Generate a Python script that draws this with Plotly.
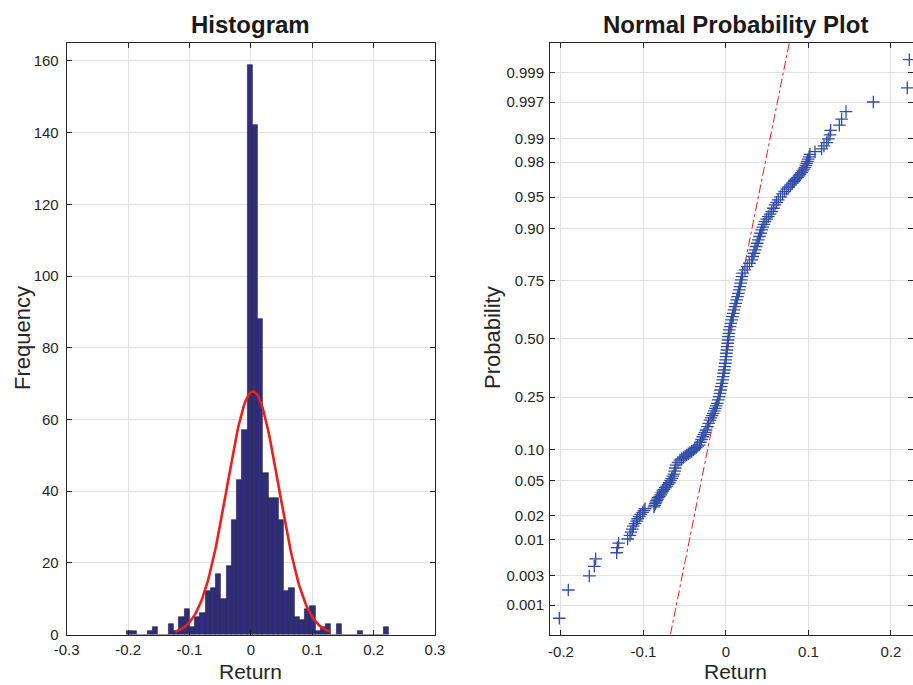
import numpy as np
import plotly.graph_objects as go
from statistics import NormalDist

# ---------------- Histogram data ----------------
bin_start = -0.2023
bin_width = 0.00854
counts = [1, 1, 0, 0, 1, 2, 0, 0, 3, 1,
          5, 7, 2, 5, 6, 12, 13, 17, 10, 19,
          32, 43, 57, 159, 142, 88, 45, 38, 38, 32,
          12, 13, 5, 4, 7, 8, 1, 2, 3, 0,
          3, 0, 0, 0, 1, 0, 0, 0, 0, 2]
fit_mu = 0.0033
fit_sigma = 0.0422

hist_xticks = [-0.3, -0.2, -0.1, 0, 0.1, 0.2, 0.3]
hist_xticklabels = ["-0.3", "-0.2", "-0.1", "0", "0.1", "0.2", "0.3"]
hist_yticks = [0, 20, 40, 60, 80, 100, 120, 140, 160]

# ---------------- Normal probability plot data ----------------
# lower tail (individual points)
tail_lo_return = [-0.2020, -0.1911, -0.1657, -0.1596, -0.1580, -0.1325, -0.1317, -0.1301, -0.1192, -0.1164,
                  -0.1152, -0.1135, -0.1123, -0.1103, -0.1083, -0.1071, -0.1051, -0.1034, -0.1010, -0.0994,
                  -0.0982, -0.0873, -0.0865, -0.0857, -0.0849, -0.0840, -0.0830, -0.0820, -0.0805, -0.0790]
tail_lo_prob = [0.000595, 0.001786, 0.002976, 0.004167, 0.005357, 0.006548, 0.007738, 0.008929, 0.010119, 0.011310,
                0.012500, 0.013690, 0.014881, 0.016071, 0.017262, 0.018452, 0.019643, 0.020833, 0.022024, 0.023214,
                0.024405, 0.025595, 0.026786, 0.027976, 0.029167, 0.030357, 0.031548, 0.032738, 0.033929, 0.035119]
# dense body of the sample
body_return = [-0.0779, -0.0765, -0.0752, -0.0735, -0.0719, -0.0703, -0.0687, -0.0672, -0.0658, -0.0644,
               -0.0630, -0.0622, -0.0614, -0.0606, -0.0582, -0.0558, -0.0537, -0.0517, -0.0496, -0.0476,
               -0.0456, -0.0436, -0.0416, -0.0396, -0.0378, -0.0360, -0.0342, -0.0324, -0.0310, -0.0296,
               -0.0282, -0.0269, -0.0255, -0.0242, -0.0226, -0.0210, -0.0194, -0.0181, -0.0167, -0.0154,
               -0.0142, -0.0130, -0.0117, -0.0105, -0.0094, -0.0084, -0.0073, -0.0065, -0.0057, -0.0048,
               -0.0040, -0.0034, -0.0027, -0.0021, -0.0014, -0.0008, -0.0003, 0.0002, 0.0006, 0.0011,
               0.0016, 0.0021, 0.0026, 0.0030, 0.0035, 0.0040, 0.0050, 0.0059, 0.0069, 0.0078,
               0.0088, 0.0097, 0.0108, 0.0119, 0.0130, 0.0140, 0.0151, 0.0161, 0.0169, 0.0177,
               0.0186, 0.0194, 0.0202, 0.0230, 0.0258, 0.0285, 0.0312, 0.0325, 0.0339, 0.0352,
               0.0365, 0.0379, 0.0392, 0.0406, 0.0419, 0.0433, 0.0446, 0.0460, 0.0473, 0.0493,
               0.0513, 0.0534, 0.0554, 0.0574, 0.0594, 0.0614, 0.0634, 0.0661, 0.0687, 0.0712,
               0.0736, 0.0760, 0.0784, 0.0804, 0.0824]
body_prob = [0.0371, 0.0388, 0.0404, 0.0422, 0.0439, 0.0457, 0.0476, 0.0502, 0.0528, 0.0556,
             0.0584, 0.0626, 0.0671, 0.0717, 0.0758, 0.0800, 0.0821, 0.0844, 0.0866, 0.0890,
             0.0913, 0.0937, 0.0961, 0.0987, 0.1013, 0.1038, 0.1066, 0.1091, 0.1153, 0.1216,
             0.1282, 0.1337, 0.1394, 0.1453, 0.1543, 0.1638, 0.1734, 0.1801, 0.1870, 0.1941,
             0.2021, 0.2104, 0.2189, 0.2276, 0.2395, 0.2514, 0.2641, 0.2769, 0.2901, 0.3033,
             0.3171, 0.3311, 0.3453, 0.3594, 0.3741, 0.3890, 0.4040, 0.4188, 0.4341, 0.4491,
             0.4645, 0.4801, 0.4952, 0.5108, 0.5263, 0.5418, 0.5573, 0.5722, 0.5875, 0.6026,
             0.6171, 0.6319, 0.6465, 0.6606, 0.6747, 0.6886, 0.7019, 0.7154, 0.7284, 0.7412,
             0.7538, 0.7655, 0.7773, 0.7887, 0.7995, 0.8103, 0.8206, 0.8307, 0.8401, 0.8494,
             0.8584, 0.8667, 0.8749, 0.8828, 0.8901, 0.8972, 0.9029, 0.9083, 0.9134, 0.9179,
             0.9222, 0.9263, 0.9303, 0.9354, 0.9401, 0.9435, 0.9468, 0.9504, 0.9539, 0.9565,
             0.9590, 0.9611, 0.9632, 0.9647, 0.9661]
# upper tail (individual points)
tail_hi_return = [0.0832, 0.0848, 0.0869, 0.0885, 0.0897, 0.0917, 0.0929, 0.0945, 0.0958, 0.0970,
                  0.0978, 0.0986, 0.0998, 0.1010, 0.1018, 0.1079, 0.1160, 0.1188, 0.1220, 0.1240,
                  0.1261, 0.1269, 0.1374, 0.1402, 0.1455, 0.1786, 0.2198, 0.2222]
tail_hi_prob = [0.967262, 0.968452, 0.969643, 0.970833, 0.972024, 0.973214, 0.974405, 0.975595, 0.976786, 0.977976,
                0.979167, 0.980357, 0.981548, 0.982738, 0.983929, 0.985119, 0.986310, 0.987500, 0.988690, 0.989881,
                0.991071, 0.992262, 0.993452, 0.994643, 0.995833, 0.997024, 0.998214, 0.999405]
q25_return = -0.0095
q75_return = 0.0188

prob_ticks = [0.001, 0.003, 0.01, 0.02, 0.05, 0.10, 0.25, 0.50, 0.75, 0.90, 0.95, 0.98, 0.99, 0.997, 0.999]
prob_ticklabels = ["0.001", "0.003", "0.01", "0.02", "0.05", "0.10", "0.25", "0.50",
                   "0.75", "0.90", "0.95", "0.98", "0.99", "0.997", "0.999"]
npp_xticks = [-0.2, -0.1, 0, 0.1, 0.2]
npp_xticklabels = ["-0.2", "-0.1", "0", "0.1", "0.2"]

# ---------------- derived ----------------
nd = NormalDist()
n_obs = sum(counts)
bin_centers = [bin_start + (i + 0.5) * bin_width for i in range(len(counts))]
xfit = np.linspace(fit_mu - 3 * fit_sigma, fit_mu + 3 * fit_sigma, 121)
yfit = n_obs * bin_width * np.exp(-0.5 * ((xfit - fit_mu) / fit_sigma) ** 2) / (fit_sigma * np.sqrt(2 * np.pi))

npp_return = tail_lo_return + body_return + tail_hi_return
npp_prob = tail_lo_prob + body_prob + tail_hi_prob
npp_z = [nd.inv_cdf(p) for p in npp_prob]
tick_z = [nd.inv_cdf(p) for p in prob_ticks]
z25, z75 = nd.inv_cdf(0.25), nd.inv_cdf(0.75)
z_lo, z_hi = -3.43, 3.435
slope = (q75_return - q25_return) / (z75 - z25)
line_x = [q25_return + (z - z25) * slope for z in (z_lo, z_hi)]

W, H = 913, 685
FONT = "Liberation Sans, Arial, sans-serif"
TXT = "#262626"

fig = go.Figure()
fig.add_trace(go.Bar(x=bin_centers, y=counts, width=bin_width,
                     marker=dict(color="rgb(48,45,128)", line=dict(color="rgb(35,35,45)", width=0.6)),
                     xaxis="x", yaxis="y", showlegend=False))
fig.add_trace(go.Scatter(x=xfit, y=yfit, mode="lines", line=dict(color="#e8211d", width=2.6),
                         xaxis="x", yaxis="y", showlegend=False))
fig.add_trace(go.Scatter(x=line_x, y=[z_lo, z_hi], mode="lines",
                         line=dict(color="#e8211d", width=1, dash="dashdot"),
                         xaxis="x2", yaxis="y2", showlegend=False))
fig.add_trace(go.Scatter(x=npp_return, y=npp_z, mode="markers",
                         marker=dict(symbol="cross-thin", size=9, line=dict(color="rgb(50,78,168)", width=1.3)),
                         xaxis="x2", yaxis="y2", showlegend=False, cliponaxis=False))

ax = dict(showline=True, linecolor=TXT, linewidth=1, mirror="ticks", ticks="inside", ticklen=5,
          tickcolor=TXT, tickwidth=1, showgrid=True, gridcolor="#e2e2e2", gridwidth=1, zeroline=False,
          automargin=False, tickfont=dict(family=FONT, size=15, color=TXT))
ydom = [1 - 634.5 / H, 1 - 43 / H]
fig.update_layout(
    template="none",
    width=W, height=H, margin=dict(l=0, r=0, t=0, b=0, pad=0),
    paper_bgcolor="white", plot_bgcolor="white", bargap=0,
    xaxis=dict(ax, domain=[66.7 / W, 435 / W], range=[-0.3, 0.3], ticklabelstandoff=1,
               tickvals=hist_xticks, ticktext=hist_xticklabels, anchor="y"),
    yaxis=dict(ax, domain=ydom, range=[0, 165], tickvals=hist_yticks, ticklabelstandoff=4, anchor="x"),
    xaxis2=dict(ax, domain=[550 / W, 1.0], range=[-0.2133, 0.2267], ticklabelstandoff=3,
                tickvals=npp_xticks, ticktext=npp_xticklabels, anchor="y2"),
    yaxis2=dict(ax, domain=ydom, range=[z_lo, z_hi], tickvals=tick_z, ticktext=prob_ticklabels,
                ticklabelstandoff=2, anchor="x2"),
)

def ann(text, x, y, size, bold=False, angle=0):
    fig.add_annotation(text=("<b>%s</b>" % text) if bold else text, x=x / W, y=1 - y / H,
                       xref="paper", yref="paper", showarrow=False, textangle=angle,
                       xanchor="center", yanchor="middle",
                       font=dict(family=FONT, size=size, color="#1a1a1a" if bold else TXT))

ann("Histogram", 250.7, 24, 24, bold=True)
ann("Normal Probability Plot", 735, 24, 24, bold=True)
ann("Return", 250.7, 671, 21)
ann("Return", 735, 671, 21)
ann("Frequency", 22, 338, 22, angle=-90)
ann("Probability", 492, 338, 22, angle=-90)

fig.write_html("out.html")
